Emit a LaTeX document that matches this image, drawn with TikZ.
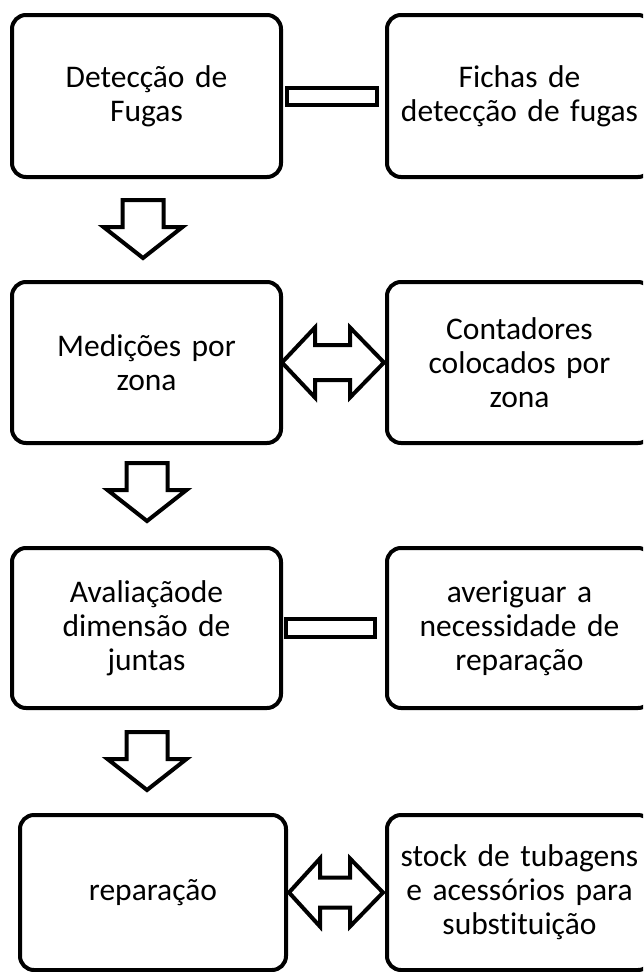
\documentclass[tikz,border=0pt]{standalone}
\usepackage{fontspec}
\setmainfont{Carlito}[RawFeature={-liga;-clig;-dlig}]
\usetikzlibrary{calc}
\begin{document}
\begin{tikzpicture}[x=1pt,y=-1pt,
  box/.style={draw, line width=4pt, rounded corners=14pt, align=center,
    inner sep=0pt, outer sep=0pt, text width=250pt,
    font=\fontsize{31.5}{34}\selectfont},
  lbox/.style={box, minimum width=269pt},
  rbox/.style={box, minimum width=265pt},
  blk/.style={draw, line width=4pt, fill=white, line join=miter},
  downarr/.pic={\draw[blk] (-20.5,0) -- (20.5,0) -- (20.5,27) -- (39.5,27) -- (0,58) -- (-39.5,27) -- (-20.5,27) -- cycle;}]
\useasboundingbox (0,0) rectangle (643,972);
\fill[white] (0,0) rectangle (643,972);
\clip (0,0) rectangle (643,972);

% left column
\node[lbox, minimum height=162pt] (b1) at (146.5,96) {Detecção de\\Fugas};
\node[lbox, minimum height=161pt] (b2) at (146.5,362.5) {Medições por\\zona};
\node[lbox, minimum height=160pt] (b3) at (146.5,628) {Avaliaçãode\\dimensão de\\juntas};
\node[box, minimum width=266pt, minimum height=155pt] (b4) at (153,892.5) {reparação};

% right column
\node[rbox, minimum height=162pt] (r1) at (519.5,96) {Fichas de\\detecção de fugas};
\node[rbox, minimum height=161pt] (r2) at (519.5,362.5) {Contadores\\colocados por\\zona};
\node[rbox, minimum height=160pt] (r3) at (519.5,628) {averiguar a\\necessidade de\\reparação};
\node[rbox, minimum height=155pt] (r4) at (519.5,892.5) {stock de tubagens\\e acessórios para\\substi\kern0pt tuição};

% horizontal links
\draw[blk] ($(b1.east)+(6,-8.5)$) rectangle ($(r1.west)+(-10,8.5)$);
\draw[blk] ($(b3.east)+(5,-9)$) rectangle ($(r3.west)+(-12,9)$);

\draw[blk] ($(b2.east)+(1,0)$) -- ++(33,-35) -- ++(0,17.5) -- ++(35,0) -- ++(0,-17.5)
  -- ++(34,35) -- ++(-34,35) -- ++(0,-17.5) -- ++(-35,0) -- ++(0,17.5) -- cycle;
\draw[blk] ($(b4.east)+(3,0)$) -- ++(31,-34) -- ++(0,19) -- ++(30,0) -- ++(0,-19)
  -- ++(33,34) -- ++(-33,34) -- ++(0,-19) -- ++(-30,0) -- ++(0,19) -- cycle;

% down arrows
\pic at ($(b1.south)+(-3.5,23)$) {downarr};
\pic at ($(b2.south)+(0.5,20)$) {downarr};
\pic at ($(b3.south)+(0.5,24)$) {downarr};
\end{tikzpicture}
\end{document}
